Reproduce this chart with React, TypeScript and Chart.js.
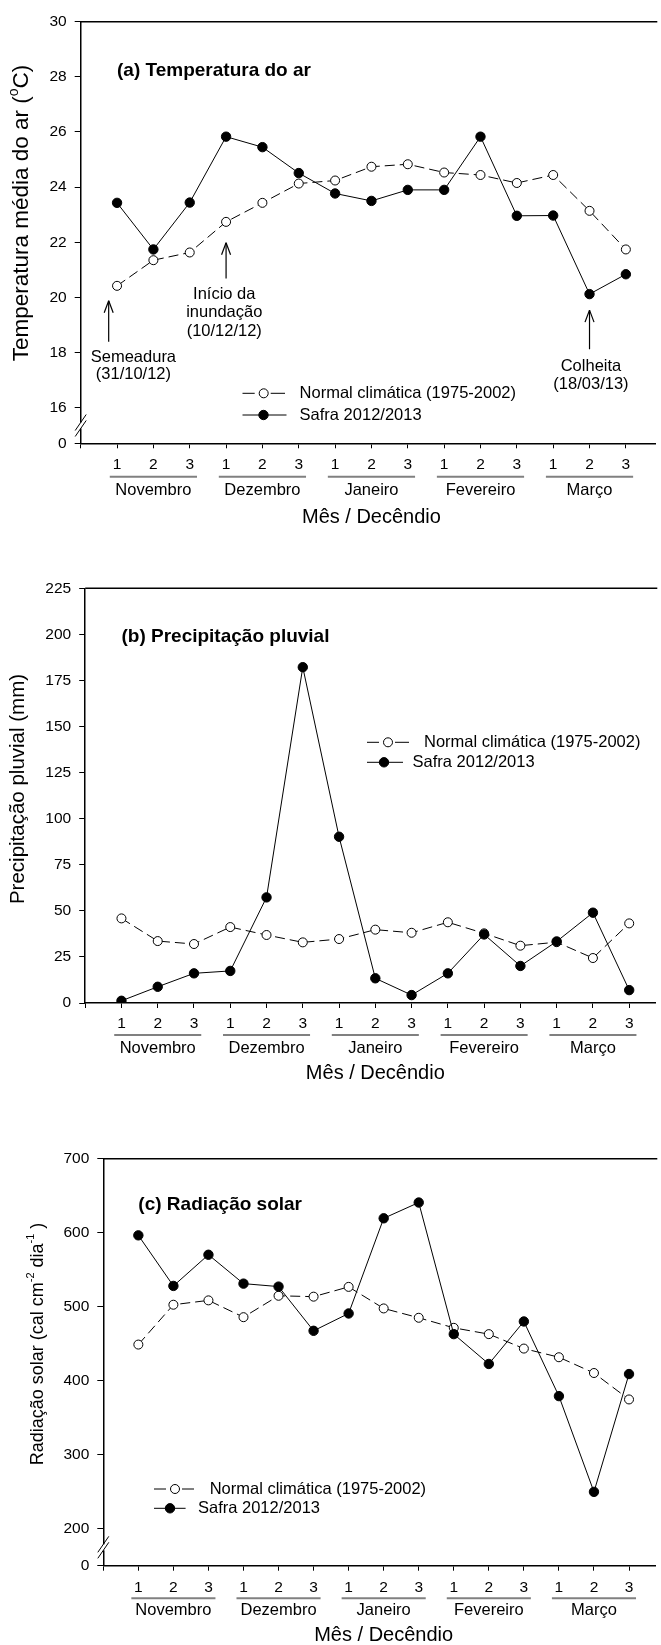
import React, { useEffect, useRef } from "react";
import { Chart, registerables } from "chart.js";

Chart.register(...registerables);

const FONT = '"Liberation Sans", Arial, Helvetica, sans-serif';

// ---------- data ----------
const decendios = ["1", "2", "3", "1", "2", "3", "1", "2", "3", "1", "2", "3", "1", "2", "3"];
const months = ["Novembro", "Dezembro", "Janeiro", "Fevereiro", "Março"];
const seriesNames = ["Normal climática (1975-2002)", "Safra 2012/2013"];

const tempNormal = [20.42, 21.35, 21.63, 22.74, 23.43, 24.13, 24.24, 24.74, 24.83, 24.53, 24.44, 24.15, 24.44, 23.14, 21.74];
const tempSafra = [23.43, 21.74, 23.44, 25.83, 25.45, 24.51, 23.77, 23.5, 23.9, 23.9, 25.83, 22.96, 22.97, 20.12, 20.84];
const tempTicks = [16, 18, 20, 22, 24, 26, 28, 30];

const precNormal = [45.9, 33.6, 32.0, 41.2, 36.9, 32.9, 34.7, 39.8, 38.1, 43.8, 37.8, 31.1, 33.0, 24.4, 43.2];
const precSafra = [1.2, 8.8, 16.1, 17.4, 57.3, 182.2, 90.2, 13.4, 4.3, 16.1, 37.2, 20.1, 33.4, 49.0, 7.0];
const precTicks = [0, 25, 50, 75, 100, 125, 150, 175, 200, 225];

const radNormal = [449, 502.8, 508.7, 486, 514.9, 513.7, 526.9, 497.8, 485.2, 471.6, 463.1, 443.6, 431.9, 410.6, 374.9];
const radSafra = [596.5, 528.2, 570.3, 531.3, 527.3, 467.6, 491, 619.5, 640.8, 463.1, 422.8, 480.2, 379.4, 250.1, 409.2];
const radTicks = [200, 300, 400, 500, 600, 700];

const tempAnnotations = [
  { x: -0.23, tip: 19.88, base: 18.39, textX: 0.45, lines: [["Semeadura", 17.83], ["(31/10/12)", 17.19]] },
  { x: 3, tip: 21.98, base: 20.69, textX: 2.95, lines: [["Início da", 20.12], ["inundação", 19.44], ["(10/12/12)", 18.76]] },
  { x: 13, tip: 19.54, base: 18.12, textX: 13.04, lines: [["Colheita", 17.51], ["(18/03/13)", 16.85]] },
];

// ---------- layout specs ----------
type Seg = { t: string; sup?: boolean };
type Spec = {
  key: string;
  top: number;
  height: number;
  axisLeft: number;
  areaTop: number;
  areaBottom: number;
  xMax: number;
  yMin: number;
  yMax: number;
  yTicks: number[];
  broken: boolean;
  normal: number[];
  safra: number[];
  title: string;
  titleY: number;
  yTitle: Seg[];
  yTitleX: number;
  yTitleY: number;
  yTitleSize: number;
  offs: { tick: number; ul: number; month: number; title: number };
  legend: { rows: number[]; lineX1: number; lineX2: number[]; marker: number[]; textX: number[] };
  annotations?: typeof tempAnnotations;
};

const specs: Spec[] = [
  {
    key: "a",
    top: 0,
    height: 540,
    axisLeft: 80.7,
    areaTop: 21.7,
    areaBottom: 443.3,
    xMax: 14.81,
    yMin: 14.709,
    yMax: 30,
    yTicks: tempTicks,
    broken: true,
    normal: tempNormal,
    safra: tempSafra,
    title: "(a) Temperatura do ar",
    titleY: 71,
    yTitle: [{ t: "Temperatura média do ar (" }, { t: "o", sup: true }, { t: "C)" }],
    yTitleX: 22,
    yTitleY: 213,
    yTitleSize: 22.5,
    offs: { tick: 7, ul: 33.4, month: 46.7, title: 74 },
    legend: { rows: [393.3, 415], lineX1: 242.5, lineX2: [285, 286.5], marker: [263.7, 263.5], textX: [299.6, 299.6] },
    annotations: tempAnnotations,
  },
  {
    key: "b",
    top: 540,
    height: 540,
    axisLeft: 85.2,
    areaTop: 48.3,
    areaBottom: 463,
    xMax: 14.72,
    yMin: 0,
    yMax: 225,
    yTicks: precTicks,
    broken: false,
    normal: precNormal,
    safra: precSafra,
    title: "(b) Precipitação pluvial",
    titleY: 96.7,
    yTitle: [{ t: "Precipitação pluvial (mm)" }],
    yTitleX: 18,
    yTitleY: 249,
    yTitleSize: 20.5,
    offs: { tick: 6.3, ul: 32, month: 45.3, title: 70.3 },
    legend: { rows: [202.3, 222.3], lineX1: 367, lineX2: [409, 403], marker: [388, 384], textX: [424, 412.6] },
  },
  {
    key: "c",
    top: 1080,
    height: 565,
    axisLeft: 103.3,
    areaTop: 78.7,
    areaBottom: 485.7,
    xMax: 14.75,
    yMin: 150.4,
    yMax: 700,
    yTicks: radTicks,
    broken: true,
    normal: radNormal,
    safra: radSafra,
    title: "(c) Radiação solar",
    titleY: 125,
    yTitle: [{ t: "Radiação solar (cal cm" }, { t: "-2", sup: true }, { t: " dia" }, { t: "-1", sup: true }, { t: " )" }],
    yTitleX: 38,
    yTitleY: 264,
    yTitleSize: 18,
    offs: { tick: 7.6, ul: 32.6, month: 44.3, title: 69.3 },
    legend: { rows: [409, 428.3], lineX1: 154, lineX2: [194, 185.6], marker: [175, 170], textX: [209.7, 198] },
  },
];

function line(ctx: CanvasRenderingContext2D, x1: number, y1: number, x2: number, y2: number) {
  ctx.beginPath();
  ctx.moveTo(x1, y1);
  ctx.lineTo(x2, y2);
  ctx.stroke();
}

function circle(ctx: CanvasRenderingContext2D, x: number, y: number, r: number, fill: string) {
  ctx.beginPath();
  ctx.arc(x, y, r, 0, Math.PI * 2);
  ctx.fillStyle = fill;
  ctx.fill();
  ctx.strokeStyle = "#000";
  ctx.lineWidth = 1;
  ctx.stroke();
}

function decorPlugin(s: Spec) {
  return {
    id: "decor" + s.key,
    afterDraw(chart: any) {
      const ctx: CanvasRenderingContext2D = chart.ctx;
      const ca = chart.chartArea;
      const xs = chart.scales.x;
      const ys = chart.scales.y;
      ctx.save();
      ctx.setLineDash([]);
      // top frame line
      ctx.strokeStyle = "#000";
      ctx.lineWidth = 1.5;
      line(ctx, ca.left, ca.top, ca.right + 2, ca.top);

      // axis break
      if (s.broken) {
        const yTop = ys.getPixelForValue(s.yTicks[0]);
        const mid = (yTop + ca.bottom) / 2;
        const ax = ca.left;
        ctx.fillStyle = "#fff";
        ctx.fillRect(ax - 2, mid - 3, 4, 6);
        ctx.strokeStyle = "#000";
        ctx.lineWidth = 1;
        line(ctx, ax - 5.5, mid - 3 + 8, ax + 5.5, mid - 3 - 8);
        line(ctx, ax - 5.5, mid + 3 + 8, ax + 5.5, mid + 3 - 8);
      }

      // month underlines, month names, x title
      ctx.textAlign = "center";
      ctx.textBaseline = "middle";
      months.forEach((m, k) => {
        const x1 = xs.getPixelForValue(3 * k - 0.2);
        const x2 = xs.getPixelForValue(3 * k + 2.2);
        ctx.strokeStyle = "#808080";
        ctx.lineWidth = 2;
        line(ctx, x1, ca.bottom + s.offs.ul, x2, ca.bottom + s.offs.ul);
        ctx.fillStyle = "#000";
        ctx.font = `16.5px ${FONT}`;
        ctx.fillText(m, xs.getPixelForValue(3 * k + 1), ca.bottom + s.offs.month);
      });
      ctx.font = `20px ${FONT}`;
      ctx.fillStyle = "#000";
      ctx.fillText("Mês / Decêndio", xs.getPixelForValue(7), ca.bottom + s.offs.title);

      // panel title
      ctx.textAlign = "left";
      ctx.font = `bold 19px ${FONT}`;
      ctx.fillText(s.title, xs.getPixelForValue(0), s.titleY);

      // y title (rotated, with superscripts)
      ctx.save();
      ctx.translate(s.yTitleX, s.yTitleY);
      ctx.rotate(-Math.PI / 2);
      const big = `${s.yTitleSize}px ${FONT}`;
      const small = `${Math.round(s.yTitleSize * 0.62)}px ${FONT}`;
      let total = 0;
      s.yTitle.forEach((seg) => {
        ctx.font = seg.sup ? small : big;
        total += ctx.measureText(seg.t).width;
      });
      let cx = -total / 2;
      s.yTitle.forEach((seg) => {
        ctx.font = seg.sup ? small : big;
        ctx.fillText(seg.t, cx, seg.sup ? -s.yTitleSize * 0.37 : 0);
        cx += ctx.measureText(seg.t).width;
      });
      ctx.restore();

      // legend
      const lg = s.legend;
      ctx.font = `16.5px ${FONT}`;
      ctx.textAlign = "left";
      ctx.textBaseline = "middle";
      {
        const y = lg.rows[0];
        const mx = lg.marker[0];
        ctx.strokeStyle = "#000";
        ctx.lineWidth = 1;
        line(ctx, lg.lineX1, y, mx - 9, y);
        line(ctx, mx + 7, y, lg.lineX2[0], y);
        circle(ctx, mx, y, 4.5, "#fff");
        ctx.fillStyle = "#000";
        ctx.fillText(seriesNames[0], lg.textX[0], y);
      }
      {
        const y = lg.rows[1];
        const mx = lg.marker[1];
        ctx.strokeStyle = "#000";
        ctx.lineWidth = 1;
        line(ctx, lg.lineX1, y, lg.lineX2[1], y);
        circle(ctx, mx, y, 4.7, "#000");
        ctx.fillStyle = "#000";
        ctx.fillText(seriesNames[1], lg.textX[1], y);
      }

      // annotations with arrows
      if (s.annotations) {
        s.annotations.forEach((a) => {
          const ax = xs.getPixelForValue(a.x);
          const tip = ys.getPixelForValue(a.tip);
          const base = ys.getPixelForValue(a.base);
          ctx.strokeStyle = "#000";
          ctx.lineWidth = 1.2;
          line(ctx, ax, base, ax, tip);
          line(ctx, ax, tip, ax - 4.5, tip + 12);
          line(ctx, ax, tip, ax + 4.5, tip + 12);
          ctx.fillStyle = "#000";
          ctx.font = `16.5px ${FONT}`;
          ctx.textAlign = "center";
          const tx = xs.getPixelForValue(a.textX);
          a.lines.forEach(([t, v]) => {
            ctx.fillText(t as string, tx, ys.getPixelForValue(v as number));
          });
        });
      }
      ctx.restore();
    },
  };
}

function buildConfig(s: Spec): any {
  const xTickVals = [-1, ...decendios.map((_, i) => i)];
  const yTickVals = [...(s.broken ? [s.yMin] : []), ...s.yTicks];
  return {
    type: "line",
    data: {
      datasets: [
        {
          label: seriesNames[0],
          data: s.normal.map((v, i) => ({ x: i, y: v })),
          borderColor: "#000",
          borderWidth: 1,
          borderDash: [10, 5],
          pointRadius: 4.5,
          pointBackgroundColor: "#fff",
          pointBorderColor: "#000",
          pointBorderWidth: 1,
          tension: 0,
          order: 1,
        },
        {
          label: seriesNames[1],
          data: s.safra.map((v, i) => ({ x: i, y: v })),
          borderColor: "#000",
          borderWidth: 1,
          pointRadius: 4.7,
          pointBackgroundColor: "#000",
          pointBorderColor: "#000",
          pointBorderWidth: 1,
          tension: 0,
          order: 0,
        },
      ],
    },
    options: {
      animation: false,
      responsive: false,
      devicePixelRatio: 1,
      events: [],
      layout: { padding: { left: 0, right: 0, top: s.areaTop, bottom: 0 } },
      plugins: { legend: { display: false }, tooltip: { enabled: false }, title: { display: false } },
      scales: {
        x: {
          type: "linear",
          position: "bottom",
          min: -1,
          max: s.xMax,
          afterBuildTicks: (sc: any) => {
            sc.ticks = xTickVals.map((v) => ({ value: v }));
          },
          afterFit: (sc: any) => {
            sc.height = s.height - s.areaBottom;
          },
          ticks: {
            callback: (v: number) => (v < 0 ? "" : decendios[v]),
            font: { family: FONT, size: 15.5 },
            color: "#000",
            padding: s.offs.tick,
            autoSkip: false,
            maxRotation: 0,
            minRotation: 0,
          },
          grid: { display: true, drawOnChartArea: false, drawTicks: true, tickLength: 5, color: "#000", lineWidth: 1 },
          border: { display: true, color: "#000", width: 1.5 },
        },
        y: {
          type: "linear",
          position: "left",
          min: s.yMin,
          max: s.yMax,
          afterBuildTicks: (sc: any) => {
            sc.ticks = yTickVals.map((v) => ({ value: v }));
          },
          afterFit: (sc: any) => {
            sc.width = s.axisLeft;
          },
          ticks: {
            callback: (v: number) => (s.broken && v === s.yMin ? "0" : String(v)),
            font: { family: FONT, size: 15.5 },
            color: "#000",
            padding: 8,
            autoSkip: false,
          },
          grid: { display: true, drawOnChartArea: false, drawTicks: true, tickLength: 6, color: "#000", lineWidth: 1 },
          border: { display: true, color: "#000", width: 1.5 },
        },
      },
    },
    plugins: [decorPlugin(s)],
  };
}

function Panel({ spec }: { spec: Spec }) {
  const ref = useRef<HTMLCanvasElement>(null);
  useEffect(() => {
    const chart = new Chart(ref.current as HTMLCanvasElement, buildConfig(spec));
    return () => chart.destroy();
  }, [spec]);
  return (
    <canvas
      ref={ref}
      width={661}
      height={spec.height}
      style={{ position: "absolute", left: 0, top: spec.top, width: 661, height: spec.height, display: "block" }}
    />
  );
}

export default function App() {
  return (
    <div style={{ position: "absolute", left: 0, top: 0, width: 661, height: 1645, background: "#fff", overflow: "hidden" }}>
      {specs.map((s) => (
        <Panel key={s.key} spec={s} />
      ))}
    </div>
  );
}
